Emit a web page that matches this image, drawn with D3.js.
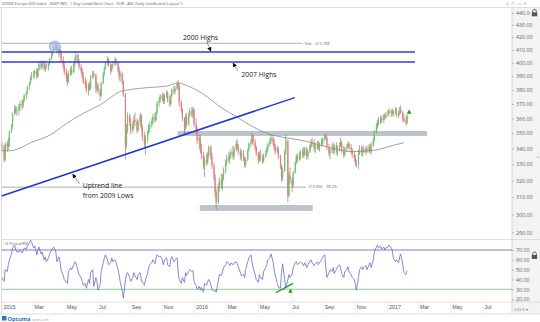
<!DOCTYPE html>
<html><head><meta charset="utf-8">
<script src="https://cdn.jsdelivr.net/npm/d3@7"></script>
<style>
html,body{margin:0;padding:0;background:#fff;}
svg{display:block;font-family:"Open Sans",sans-serif;}
</style></head>
<body><svg id="c" width="540" height="322"></svg>
<script>
// ---- price bars: 2 trading days per bar, [open, high, low, close] ----
const bars2015 = [
[342,344,339,341],[341,342,331,333],[333,344,332,343],[343,345,338,341],[341,347,339,345],[345,352,341,351],[351,356,350,355],[355,364,353,363],[363,369,362,367],[367,369,363,365],[365,368,362,366],
[366,370,362,368],[368,372,365,370],[370,373,366,369],[369,374,367,373],[373,377,371,376],[376,379,373,378],[378,383,377,382],[382,386,380,385],[385,390,384,389],[389,393,387,391],
[391,394,388,392],[392,395,389,394],[394,396,388,390],[390,396,389,395],[395,401,394,399],[399,402,395,397],[397,401,395,400],[400,402,394,396],[396,399,393,398],[398,400,395,397],[397,400,394,399],
[399,404,398,403],[403,408,402,407],[407,410,405,409],[409,413,408,412],[412,415,410,413],[413,415,407,409],[409,411,404,410],[410,413,406,408],[408,410,401,402],[402,405,396,398],[398,400,391,393],
[393,396,386,389],[389,392,383,386],[386,394,385,392],[392,397,390,395],[395,398,391,393],[393,400,392,399],[399,404,397,402],[402,408,401,406],[406,407,399,401],[401,403,395,397],[397,399,392,394],
[394,396,388,390],[390,393,384,386],[386,389,381,384],[384,387,378,380],[380,385,376,383],[383,386,379,381],[381,391,380,390],[390,394,388,392],[392,394,389,391],[391,392,378,381],[381,386,379,383],
[383,385,377,379],[379,381,372,376],[376,386,375,385],[385,393,384,392],[392,397,390,396],[396,401,395,400],[400,405,398,403],[403,404,397,399],[399,400,391,394],[394,399,393,398],[398,401,396,399],
[399,404,398,402],[402,404,398,400],[400,401,393,395],[395,397,387,390],[390,394,386,392],[392,393,384,386],[386,387,375,377],[377,378,333,342],[342,356,340,352],[352,364,350,362],[362,363,355,357],
[356,360,349,352],[352,358,350,356],[356,362,353,359],[359,364,355,358],[358,360,350,352],[352,359,351,357],[357,364,355,362],[362,363,352,354],[354,356,345,348],[348,351,340,343],[343,349,336,346],
[346,352,344,350],[350,356,349,354],[354,358,351,356],[356,360,353,358],[358,363,356,361],[361,364,357,359],[359,365,358,364],[364,372,363,371],[371,375,368,373],[373,377,371,376],[376,378,372,374],
[374,378,370,372],[372,377,370,376],[376,380,374,378],[378,379,371,373],[373,376,368,370],[370,377,369,376],[376,381,375,380],[380,383,377,379],[379,383,377,381],[381,386,380,385],
[385,387,380,383],[383,384,368,371],[371,373,364,366],[366,367,358,360],[360,361,349,353],[353,363,352,361],[361,364,354,356],[356,364,355,362],[362,367,361,365],[365,368,361,363],[363,368,360,366]
];
const bars2016 = [
[366,367,354,356],[356,360,350,352],[352,354,343,345],[345,349,340,347],[347,349,337,339],[339,343,333,336],[336,338,327,329],[329,335,322,333],[333,337,329,331],[331,338,330,336],[336,342,334,341],
[341,342,333,335],[335,337,327,329],[329,331,320,322],[322,324,310,313],[313,315,303,307],[307,318,306,316],[316,322,313,320],[320,324,315,317],[317,324,314,322],[322,328,320,326],
[326,333,324,331],[331,336,329,334],[334,338,331,333],[333,337,330,336],[336,340,334,338],[338,342,333,335],[335,341,333,340],[340,345,338,343],[343,346,339,341],[341,343,336,338],[338,340,333,335],[335,339,332,337],
[337,339,332,334],[334,335,328,330],[330,334,328,333],[333,340,332,339],[339,344,338,343],[343,346,341,344],[344,350,343,348],[348,349,342,344],[344,346,339,341],[341,342,335,337],
[337,338,330,333],[333,338,331,336],[336,339,332,334],[334,336,330,332],[332,337,331,335],[335,339,334,337],[337,341,336,340],[340,344,338,343],[343,347,341,345],[345,349,343,347],[347,348,342,344],
[344,346,339,341],[341,343,336,338],[338,342,337,340],[340,341,333,335],[335,336,327,329],[329,330,319,322],[322,328,320,326],[326,339,325,338],[338,349,336,345],[345,346,307,311],[311,325,310,323],
[323,328,318,320],[320,322,313,317],[317,326,316,325],[325,332,324,331],[331,336,330,335],[335,337,331,333],[333,338,332,336],[336,339,333,337],[337,340,334,338],[338,341,334,336],[336,341,335,340],
[340,341,333,335],[335,339,333,338],[338,343,337,342],[342,346,340,344],[344,347,341,343],[343,346,338,340],[340,343,337,341],[341,345,339,343],[343,345,339,340],[340,344,338,343],[343,347,341,345],
[343,347,342,346],[346,349,345,348],[348,350,346,347],[347,348,339,341],[341,343,335,337],[337,340,333,339],[339,343,337,341],[341,344,337,339],[339,343,336,342],[342,344,336,338],[338,342,335,340],
[340,344,338,342],[342,347,341,344],[344,345,337,339],[339,342,334,336],[336,341,335,340],[340,343,338,341],[341,345,340,343],[343,344,339,341],[341,343,337,339],[339,340,334,336],[336,338,332,334],
[334,336,329,331],[331,333,328,330],[330,339,327,337],[337,342,336,340],[340,342,335,338],[338,341,335,339],[339,342,337,338],[338,341,336,340],[340,342,337,339],[339,343,337,341],[341,343,337,339],
[339,344,336,342],[342,347,341,345],[345,352,344,351],[351,357,350,355],[355,359,353,358],[358,361,355,357],[357,362,356,360],[360,362,357,359],[359,363,357,362],[362,364,359,361],[361,364,360,362]
];
const bars2017 = [
[362,366,361,365],[365,367,363,364],[364,366,361,365],[365,367,362,363],[363,366,361,365],[365,368,363,366],[366,367,361,362],[362,365,360,364],[364,368,362,366],[366,369,363,364],[364,365,358,360],
[360,363,357,358],[358,361,355,357],[357,363,356,362]
];
// ---- 14 period RSI, one value per bar ----
const rsi2015 = [42,38,50,48,55,60,66,72,75,70,68, 68,70,67,69,72,71,74,77,80,78, 72,74,65,70,73,66,68,60,63,58,62,
66,70,72,73,68,58,63,58,50,44,40, 37,36,48,52,50,55,58,57,49,45,42, 38,34,36,31,40,36,47,50,33,42,38,
29,35,48,57,62,65,60,55,57,62,58, 60,58,50,45,38,28,21,40,45,47,42, 38,42,47,44,40,45,47,40,37,34,40,
46,52,55,57,60,56,62,65,63,64,60, 55,60,62,55,53,60,63,58,60,62, 47,40,36,42,37,47,44,48,50,48,49];
const rsi2016 = [38,34,30,33,29,32,27,36,34,38,40, 35,30,28,29,27,38,45,44,48,52, 55,58,56,54,57,55,57,58,56,53,47,44,
45,42,50,58,62,65,58,52,45,40, 37,45,42,40,48,52,55,60,62,66,58, 50,45,36,32,31,47,56,40,31,40,45,
42,45,52,57,58,55,57,58,56,54,57, 52,55,59,60,57,54,56,58,55,57,60, 63,65,52,42,47,50,48,52,46,50,53,
55,52,46,42,48,50,53,48,45,42,40, 35,29,42,50,53,50,52,54,50,55,57, 52,60,68,73,75,72,74,71,73,70,72];
const rsi2017 = [73,75,72,70,62,58,60,57,63,66,55,47,45,49];
// ---- 200 day moving average ----
const maDates = ["2015-01-01","2015-01-17","2015-03-02","2015-04-03","2015-05-05","2015-06-05","2015-07-07","2015-08-14","2015-09-07","2015-10-10","2015-11-11","2015-11-30","2015-12-30","2016-01-26","2016-02-19","2016-03-23","2016-04-16","2016-05-18","2016-06-18","2016-07-20","2016-08-21","2016-09-28","2016-10-23","2016-12-05","2017-01-07","2017-02-02"];
const maValues = [338.6,338.6,344.4,348.8,356.7,363.5,369.3,378.7,380.5,381.8,382.8,385.0,381.2,375.1,368.1,360.8,355.5,350.0,347.3,345.5,342.9,339.5,338.0,338.7,341.5,343.8];
// ---- axes ----
const priceTicks = [290,300,310,320,330,340,350,360,370,380,390,400,410,420,430,440];
const rsiTicks = [20,30,40,50,60,70];
const rsiLevels = [70,30];
const xTickDates = ["2015-01-01","2015-03-01","2015-05-01","2015-07-01","2015-09-01","2015-11-01","2016-01-01","2016-03-01","2016-05-01","2016-07-01","2016-09-01","2016-11-01","2017-01-01","2017-03-01","2017-05-01","2017-07-01"];
const xTickLabels = ["2015","Mar","May","Jul","Sep","Nov","2016","Mar","May","Jul","Sep","Nov","2017","Mar","May","Jul"];
// ---- annotations (data coordinates) ----
const blueLevels = [408.4, 400.7];
const blueEnd = "2017-02-23";
const refLevels = [415.188, 315.956];
const refEnds = ["2016-07-25", "2016-08-01"];
const refLabels = ["Shd    415.188", "315.956    38.2%"];
const zoneLow = [348.2, 302.0];
const zoneHigh = [351.5, 305.4];
const zoneStart = ["2015-12-01", "2016-01-12"];
const zoneEnd = ["2017-03-18", "2016-08-13"];
const trendDates = ["2015-01-01", "2016-07-10"];
const trendValues = [310.7, 374.5];
const noteTexts = ["2000 Highs", "2007 Highs", "Uptrend line", "from 2009 Lows"];
const noteDates = ["2015-12-11", "2016-03-31", "2015-06-04", "2015-06-04"];
const noteValues = [417.8, 389.4, 315.7, 309.8];
const arrowFromDates = ["2016-01-25", "2016-03-24", "2015-05-29"];
const arrowFromValues = [416.6, 393.9, 317.9];
const arrowToDates = ["2016-02-02", "2016-03-15", "2015-05-16"];
const arrowToValues = [408.9, 399.9, 323.9];
const circleDate = "2015-04-12", circleValue = 412.6;
const priceSignalDate = "2017-02-12", priceSignalValue = 364.4;
const rsiDivDates = ["2016-06-04", "2016-07-07"], rsiDivValues = [26.5, 36.1];
const rsiSignalDate = "2016-07-02", rsiSignalValue = 28.3;
const rsiTailDates = ["2016-07-03", "2016-07-09"], rsiTailValues = [25.5, 18.2];
const titleText = "STOXX Europe 600 Index - SXXP (WI) - 1 Day CandleStick Chart - EUR - ASC Daily Candlestick Layout";

// ================= drawing =================
const svg = d3.select("#c");
const P = d3.utcParse("%Y-%m-%d");
const weekdays = [];
for (let t = Date.UTC(2015,0,1); weekdays.length < 620; t += 864e5) {
  const d = new Date(t); const wd = d.getUTCDay();
  if (wd !== 0 && wd !== 6) weekdays.push(d);
}
const bars = [...bars2015, ...bars2016, ...bars2017].map((b,i)=>({date:weekdays[2*i+1],o:b[0],h:b[1],l:b[2],c:b[3]}));
const rsi = [...rsi2015, ...rsi2016, ...rsi2017].map((v,i)=>({date:weekdays[2*i+1],v}));
const ma = maDates.map((d,i)=>({date:P(d),v:maValues[i]}));

const L = 1.5, R = 512;
const x = d3.scaleUtc().domain([P("2015-01-01"), P("2017-01-01")]).range([1.5, 387]);
const yP = d3.scaleLog().domain([290,440]).range([232.3,12.7]);
const yR = d3.scaleLinear().domain([30,70]).range([289.3,250]);

const defs = svg.append("defs");
defs.append("clipPath").attr("id","cp").append("rect").attr("x",L).attr("y",8).attr("width",R-L).attr("height",231);
defs.append("clipPath").attr("id","cr").append("rect").attr("x",L).attr("y",239.5).attr("width",R-L).attr("height",62.5);
defs.append("marker").attr("id","ah").attr("viewBox","0 0 10 10").attr("refX",9).attr("refY",5)
  .attr("markerWidth",4.5).attr("markerHeight",4.5).attr("markerUnits","userSpaceOnUse").attr("orient","auto")
  .append("path").attr("d","M0,0L10,5L0,10z").attr("fill","#111");

// frame backgrounds
svg.append("rect").attr("x",R).attr("y",7.5).attr("width",540-R).attr("height",306.5).attr("fill","#f3f3f3");
svg.append("line").attr("x1",0).attr("x2",540).attr("y1",7.5).attr("y2",7.5).attr("stroke","#d6d6d6").attr("stroke-width",0.8);
svg.append("line").attr("x1",L).attr("x2",L).attr("y1",7.5).attr("y2",314).attr("stroke","#d0d0d0").attr("stroke-width",0.8);
svg.append("line").attr("x1",R).attr("x2",R).attr("y1",7.5).attr("y2",314).attr("stroke","#cfcfcf").attr("stroke-width",0.8);
svg.append("line").attr("x1",L).attr("x2",540).attr("y1",239.5).attr("y2",239.5).attr("stroke","#d6d6d6").attr("stroke-width",0.8);
svg.append("line").attr("x1",L).attr("x2",540).attr("y1",302).attr("y2",302).attr("stroke","#d6d6d6").attr("stroke-width",0.8);
svg.append("line").attr("x1",0).attr("x2",540).attr("y1",314).attr("y2",314).attr("stroke","#d6d6d6").attr("stroke-width",0.8);

// title + icons
svg.append("text").attr("x",2).attr("y",5.2).attr("font-size",3.9).attr("fill","#555").text(titleText + "  \u270E");
svg.append("text").attr("x",506).attr("y",5.2).attr("font-size",4.2).attr("fill","#999").attr("font-family","DejaVu Sans").text("\u25C7 \u21D7 \u205D \u25AD \u2715");

// ---------- price pane ----------
const gp = svg.append("g").attr("clip-path","url(#cp)");
// zones
gp.selectAll("rect.zone").data(zoneLow).join("rect").attr("class","zone")
  .attr("x",(d,i)=>x(P(zoneStart[i]))).attr("width",(d,i)=>x(P(zoneEnd[i]))-x(P(zoneStart[i])))
  .attr("y",(d,i)=>yP(zoneHigh[i])).attr("height",(d,i)=>yP(d)-yP(zoneHigh[i]))
  .attr("fill","#b4bcc7").attr("opacity",0.9);
// reference gray levels
gp.selectAll("line.ref").data(refLevels).join("line").attr("class","ref")
  .attr("x1",L).attr("x2",(d,i)=>x(P(refEnds[i]))).attr("y1",d=>yP(d)).attr("y2",d=>yP(d))
  .attr("stroke","#9a9a9a").attr("stroke-width",0.8);
gp.selectAll("text.ref").data(refLevels).join("text").attr("class","ref")
  .attr("x",(d,i)=>x(P(refEnds[i]))+2).attr("y",d=>yP(d)+1.3).attr("font-size",3.8).attr("fill","#666")
  .text((d,i)=>refLabels[i]).attr("xml:space","preserve");
// moving average
gp.append("path").datum(ma).attr("fill","none").attr("stroke","#8a8a8a").attr("stroke-width",0.8)
  .attr("d",d3.line().curve(d3.curveMonotoneX).x(d=>x(d.date)).y(d=>yP(d.v)));
// candles
const cg = gp.append("g");
cg.selectAll("line.w").data(bars).join("line").attr("class","w")
  .attr("x1",d=>x(d.date)).attr("x2",d=>x(d.date)).attr("y1",d=>yP(d.h)).attr("y2",d=>yP(d.l))
  .attr("stroke",d=>d.c>=d.o?"#2f8f2f":"#b83a3a").attr("stroke-width",0.55);
cg.selectAll("rect.b").data(bars).join("rect").attr("class","b")
  .attr("x",d=>x(d.date)-0.6).attr("width",1.2)
  .attr("y",d=>yP(Math.max(d.o,d.c))).attr("height",d=>Math.max(0.7,Math.abs(yP(d.o)-yP(d.c))))
  .attr("fill",d=>d.c>=d.o?"#6cc46c":"#e07f7f");
// blue highs
gp.selectAll("line.blue").data(blueLevels).join("line").attr("class","blue")
  .attr("x1",L).attr("x2",x(P(blueEnd))).attr("y1",d=>yP(d)).attr("y2",d=>yP(d))
  .attr("stroke","#2b3be0").attr("stroke-width",1.5);
// uptrend line
gp.append("line").attr("x1",x(P(trendDates[0]))).attr("y1",yP(trendValues[0]))
  .attr("x2",x(P(trendDates[1]))).attr("y2",yP(trendValues[1])).attr("stroke","#2233dd").attr("stroke-width",1.5);
// circle at highs
gp.append("circle").attr("cx",x(P(circleDate))).attr("cy",yP(circleValue)).attr("r",5.5)
  .attr("fill","#9fb6e6").attr("fill-opacity",0.65).attr("stroke","#7f9ad6").attr("stroke-width",0.6);
// notes
gp.selectAll("text.note").data(noteTexts).join("text").attr("class","note")
  .attr("x",(d,i)=>x(P(noteDates[i]))).attr("y",(d,i)=>yP(noteValues[i]))
  .attr("font-size",6.8).attr("fill","#222").text(d=>d);
gp.selectAll("line.arrow").data(arrowFromDates).join("line").attr("class","arrow")
  .attr("x1",(d,i)=>x(P(d))).attr("y1",(d,i)=>yP(arrowFromValues[i]))
  .attr("x2",(d,i)=>x(P(arrowToDates[i]))).attr("y2",(d,i)=>yP(arrowToValues[i]))
  .attr("stroke","#333").attr("stroke-width",0.5).attr("marker-end","url(#ah)");
// green signal
const tri = (cx,cy,s)=>`M${cx},${cy-s}L${cx+s*0.9},${cy+s*0.7}L${cx-s*0.9},${cy+s*0.7}Z`;
gp.append("path").attr("d",tri(x(P(priceSignalDate)),yP(priceSignalValue),2.6)).attr("fill","#1f9a1f");

// ---------- RSI pane ----------
const gr = svg.append("g").attr("clip-path","url(#cr)");
gr.selectAll("line.lvl").data(rsiLevels).join("line").attr("class","lvl")
  .attr("x1",L).attr("x2",R).attr("y1",d=>yR(d)).attr("y2",d=>yR(d))
  .attr("stroke",(d,i)=>i===0?"#7c7cd8":"#8ccc8c").attr("stroke-width",1);
gr.append("path").datum(rsi).attr("fill","none").attr("stroke","#6a6ac9").attr("stroke-width",0.8)
  .attr("d",d3.line().x(d=>x(d.date)).y(d=>yR(d.v)));
gr.append("line").attr("x1",x(P(rsiDivDates[0]))).attr("y1",yR(rsiDivValues[0]))
  .attr("x2",x(P(rsiDivDates[1]))).attr("y2",yR(rsiDivValues[1])).attr("stroke","#1e9a1e").attr("stroke-width",1.3);
gr.append("line").attr("x1",x(P(rsiTailDates[0]))).attr("y1",yR(rsiTailValues[0]))
  .attr("x2",x(P(rsiTailDates[1]))).attr("y2",yR(rsiTailValues[1])).attr("stroke","#7cc47c").attr("stroke-width",0.5).attr("stroke-dasharray","1,0.8");
gr.append("path").attr("d",tri(x(P(rsiSignalDate)),yR(rsiSignalValue),2.4)).attr("fill","#1f9a1f");
svg.append("text").attr("x",4).attr("y",244.5).attr("font-size",3.9).attr("fill","#555").text("14 Period RSI");

// ---------- axes ----------
const styleAxis = g => {
  g.select(".domain").remove();
  g.selectAll(".tick line").attr("stroke","#888").attr("stroke-width",0.5);
  g.selectAll(".tick text").attr("font-size",5.3).attr("fill","#666").attr("font-family","Open Sans, sans-serif");
};
svg.append("g").attr("transform",`translate(${R},0)`)
  .call(d3.axisRight(yP).tickValues(priceTicks).tickFormat(d3.format(".2f")).tickSize(2).tickPadding(2)).call(styleAxis);
svg.append("g").attr("transform",`translate(${R},0)`)
  .call(d3.axisRight(yR).tickValues(rsiTicks).tickFormat(d3.format(".2f")).tickSize(2).tickPadding(2)).call(styleAxis);
const gx = svg.append("g").attr("transform","translate(0,302)")
  .call(d3.axisBottom(x).tickValues(xTickDates.map(P)).tickFormat((d,i)=>xTickLabels[i]).tickSize(12).tickPadding(0));
gx.select(".domain").remove();
gx.selectAll(".tick line").attr("stroke","#e2e2e2").attr("stroke-width",0.6);
gx.selectAll(".tick text").attr("font-size",5.4).attr("fill","#555").attr("text-anchor","start")
  .attr("x",1.5).attr("y",3.6).attr("dy","0.71em");
svg.append("text").attr("x",514).attr("y",310.5).attr("font-size",3.6).attr("fill","#777").text("3.03 % \u25BE");

// lock icons
const lock = (lx,ly)=>{
  const g = svg.append("g").attr("transform",`translate(${lx},${ly})`);
  g.append("rect").attr("x",-1).attr("y",-1.5).attr("width",8).attr("height",9).attr("fill","#f3f3f3");
  g.append("path").attr("d","M1.7,3V1.8a1.8,1.8 0 0 1 3.6,0V3").attr("fill","none").attr("stroke","#555").attr("stroke-width",0.9);
  g.append("rect").attr("x",0.8).attr("y",3).attr("width",5.4).attr("height",4).attr("fill","#555");
};
lock(531,9.3); lock(531,252);
svg.append("text").attr("x",536.5).attr("y",159).attr("font-size",5).attr("fill","#888").text("<");

// logo
svg.append("rect").attr("x",2).attr("y",316).attr("width",4.5).attr("height",4.5).attr("fill","#1f78c8");
svg.append("text").attr("x",7.5).attr("y",321).attr("font-size",5.6).attr("font-weight","bold").attr("fill","#1f78c8").text("Optuma");
svg.append("text").attr("x",32).attr("y",320.5).attr("font-size",2.8).attr("fill","#999").text("optuma.com");
</script>
</body></html>
